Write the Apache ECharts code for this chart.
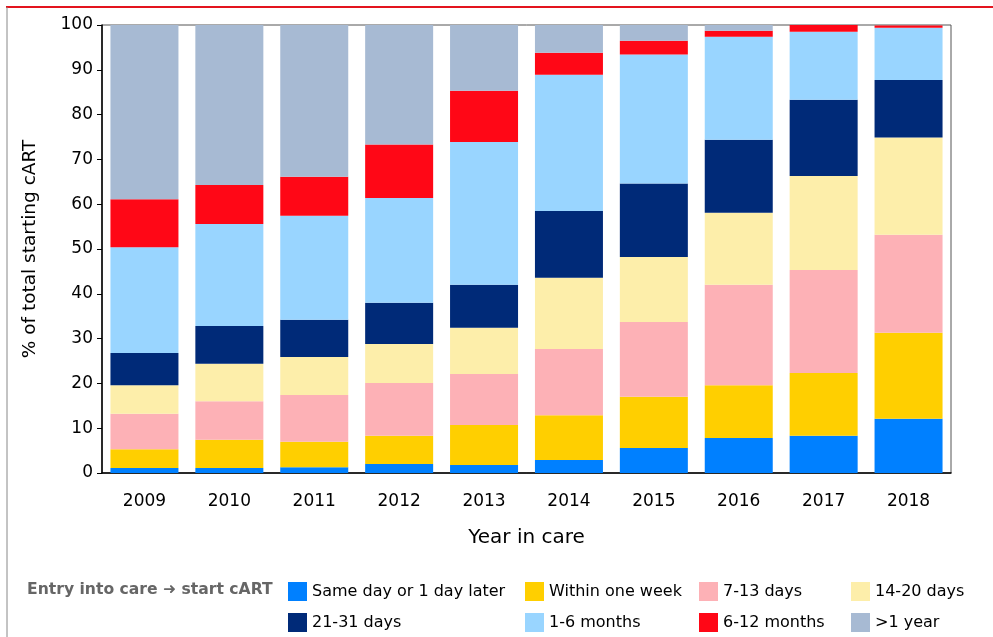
<!DOCTYPE html>
<html>
<head>
<meta charset="utf-8">
<script src="https://cdn.jsdelivr.net/npm/echarts@6/dist/echarts.min.js"></script>
<style>
  html, body { margin: 0; padding: 0; background: #fff; }
  #chartDom { width: 993px; height: 637px; }
</style>
</head>
<body>
<div id="chartDom"></div>
<script>
// 年份
const years = ['2009', '2010', '2011', '2012', '2013', '2014', '2015', '2016', '2017', '2018'];
const yTicks = [0, 10, 20, 30, 40, 50, 60, 70, 80, 90, 100];

// % per category
const sameDay   = [1.1, 1.1, 1.3, 2.0, 1.8, 2.9, 5.6, 7.8, 8.3, 12.1];
const oneWeek   = [4.2, 6.3, 5.7, 6.3, 8.9, 10.0, 11.4, 11.8, 14.0, 19.2];
const d7to13    = [7.9, 8.6, 10.4, 11.8, 11.4, 14.8, 16.7, 22.4, 23.0, 21.9];
const d14to20   = [6.4, 8.4, 8.5, 8.7, 10.3, 15.9, 14.5, 16.1, 21.0, 21.7];
const d21to31   = [7.2, 8.4, 8.3, 9.2, 9.6, 14.9, 16.4, 16.3, 17.0, 12.8];
const m1to6     = [23.6, 22.8, 23.2, 23.4, 31.9, 30.4, 28.8, 23.0, 15.2, 11.7];
const m6to12    = [10.7, 8.7, 8.7, 11.9, 11.4, 4.9, 3.1, 1.3, 1.5, 0.5];
const overYear  = [38.9, 35.7, 33.9, 26.7, 14.7, 6.2, 3.5, 1.3, 0, 0];

const names = ['Same day or 1 day later', 'Within one week', '7-13 days', '14-20 days',
               '21-31 days', '1-6 months', '6-12 months', '>1 year'];
const colors = ['#0080ff', '#ffcf00', '#fdb1b6', '#fdeeaa', '#002a78', '#99d5ff', '#ff0716', '#a7bad3'];
const values = [sameDay, oneWeek, d7to13, d14to20, d21to31, m1to6, m6to12, overYear];

let chart = echarts.init(document.getElementById('chartDom'));

const series = names.map((n, i) => ({
  name: n,
  type: 'bar',
  stack: 'total',
  barWidth: 68,
  itemStyle: { color: colors[i] },
  data: values[i]
}));

// legend: 4 columns, 2 rows
const colX = [288, 525, 699, 851];
const legends = colX.map((x, c) => ({
  left: x,
  top: 582,
  orient: 'vertical',
  itemWidth: 19,
  itemHeight: 19,
  itemGap: 12,
  icon: 'rect',
  selectedMode: false,
  padding: 0,
  textStyle: { fontFamily: 'DejaVu Sans', fontSize: 16, color: '#000' },
  data: [names[c], names[c + 4]]
}));

chart.setOption({
  animation: false,
  textStyle: { fontFamily: 'DejaVu Sans' },
  grid: {
    left: 102, right: 42, top: 25, bottom: 164,
    show: true, borderColor: '#555', borderWidth: 1
  },
  legend: legends,
  xAxis: {
    type: 'category',
    data: years,
    name: 'Year in care',
    nameLocation: 'middle',
    nameGap: 55,
    nameTextStyle: { fontSize: 20, color: '#000' },
    axisLine: { lineStyle: { color: '#000', width: 1.5 } },
    axisTick: { alignWithLabel: true, length: 5, lineStyle: { color: '#000' } },
    axisLabel: { fontSize: 17, color: '#000', margin: 20 }
  },
  yAxis: {
    type: 'value',
    min: yTicks[0],
    max: yTicks[yTicks.length - 1],
    interval: 10,
    name: '% of total starting cART',
    nameLocation: 'middle',
    nameGap: 62,
    nameTextStyle: { fontSize: 18.5, color: '#000' },
    splitLine: { show: false },
    axisLine: { show: true, lineStyle: { color: '#000', width: 1.5 } },
    axisTick: { show: true, length: 5, lineStyle: { color: '#000' } },
    axisLabel: { fontSize: 17, color: '#000', margin: 9 }
  },
  graphic: [
    // frame lines
    { type: 'line', shape: { x1: 6, y1: 7, x2: 993, y2: 7 }, style: { stroke: '#e3141e', lineWidth: 2 } },
    { type: 'line', shape: { x1: 7, y1: 7, x2: 7, y2: 637 }, style: { stroke: '#888', lineWidth: 1 } },
    {
      type: 'text', left: 27, top: 582,
      style: { text: 'Entry into care \u279c start cART', fontFamily: 'DejaVu Sans', fontSize: 15.6, fontWeight: 'bold', fill: '#666' }
    }
  ],
  series: series
});
</script>
</body>
</html>
